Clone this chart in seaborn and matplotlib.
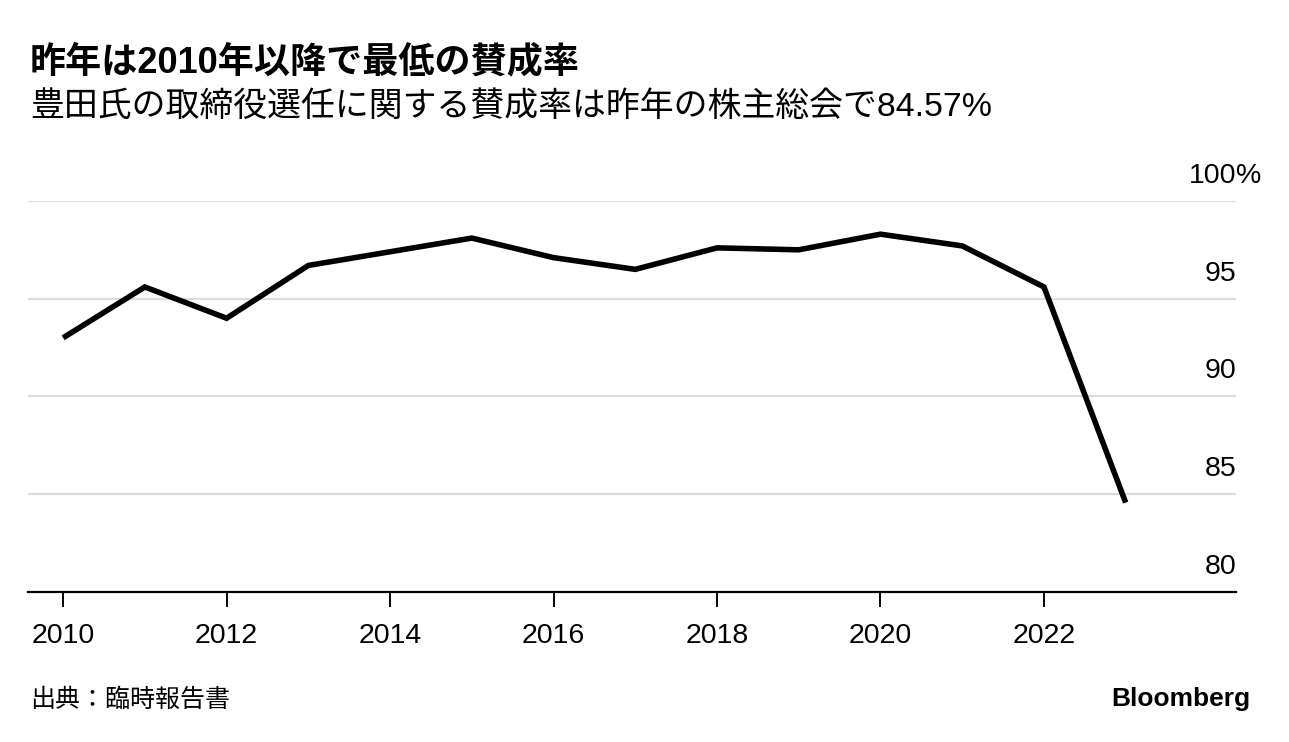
import matplotlib
matplotlib.use("Agg")
import matplotlib.pyplot as plt
import matplotlib.transforms as mtransforms
import pandas as pd
import seaborn as sns

# approval rate for Toyoda's board re-election
years = [2010, 2011, 2012, 2013, 2014, 2015, 2016,
         2017, 2018, 2019, 2020, 2021, 2022, 2023]
approval = [93.0, 95.6, 94.0, 96.7, 97.4, 98.1, 97.1,
            96.5, 97.6, 97.5, 98.3, 97.7, 95.6, 84.57]
xtick_years = [2010, 2012, 2014, 2016, 2018, 2020, 2022]
ytick_values = [80, 85, 90, 95, 100]
ytick_labels = ["80", "85", "90", "95", "100"]

title = "昨年は2010年以降で最低の賛成率"
subtitle = "豊田氏の取締役選任に関する賛成率は昨年の株主総会で84.57%"
source = "出典：臨時報告書"

sns.set_style("white")
plt.rcParams["font.family"] = ["Liberation Sans", "Noto Sans CJK JP", "DejaVu Sans"]
plt.rcParams["text.color"] = "black"
plt.rcParams["xtick.color"] = "black"
plt.rcParams["xtick.labelcolor"] = "black"

df = pd.DataFrame({"year": years, "approval": approval})

fig = plt.figure(figsize=(12.89, 7.42), dpi=100)
ax = fig.add_axes([0.0217, 0.2022, 0.9372, 0.5270])

sns.lineplot(data=df, x="year", y="approval", ax=ax, color="black",
             linewidth=4.0, solid_joinstyle="miter", solid_capstyle="butt")

ax.set_xlim(2009.57, 2024.35)
ax.set_ylim(80, 100)

# horizontal grid lines
for v in ytick_values[1:]:
    ax.axhline(v, color="#dcdcdc", linewidth=1.6, zorder=0)

for s in ["top", "left", "right"]:
    ax.spines[s].set_visible(False)
ax.spines["bottom"].set_linewidth(1.6)
ax.spines["bottom"].set_color("black")

ax.set_xticks(xtick_years)
ax.set_xticklabels([str(y) for y in xtick_years])
ax.tick_params(axis="x", bottom=True, length=11, width=1.4, color="black",
               pad=11, labelsize=20.5, direction="out")
ax.set_yticks([])
ax.set_xlabel("")
ax.set_ylabel("")

# y labels sit above each grid line, right aligned to the axis end
trans = ax.get_yaxis_transform()
up = mtransforms.ScaledTranslation(0, 13 / 72, fig.dpi_scale_trans)
for v, lab in zip(ytick_values, ytick_labels):
    ax.text(1.0, v, lab, transform=trans + up, ha="right", va="baseline",
            fontsize=20.5, color="black")
    if v == 100:
        ax.text(1.0, v, "%", transform=trans + up, ha="left", va="baseline",
                fontsize=20.5, color="black")

fig.text(0.0233, 0.915, title, fontsize=26, fontweight="bold", va="center",
         ha="left", family=["Liberation Sans", "Noto Sans CJK JP"])
fig.text(0.0233, 0.856, subtitle, fontsize=24.4, va="center", ha="left",
         family=["Liberation Sans", "Noto Sans CJK JP"])
fig.text(0.0233, 0.057, source, fontsize=18, va="center", ha="left",
         family=["Noto Sans CJK JP"])
fig.text(0.970, 0.058, "Bloomberg", fontsize=19, fontweight="bold",
         va="center", ha="right", family=["Liberation Sans"])

fig.savefig("out.png", dpi=100)
